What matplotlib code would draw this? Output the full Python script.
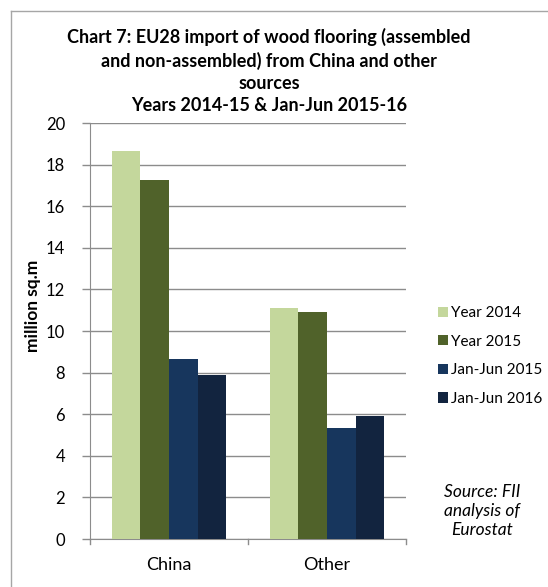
import matplotlib
matplotlib.use('Agg')
import matplotlib.pyplot as plt
from matplotlib.lines import Line2D
import numpy as np

categories = ['China', 'Other']
series_names = ['Year 2014', 'Year 2015', 'Jan-Jun 2015', 'Jan-Jun 2016']
series_values = [
    [18.65, 11.1],
    [17.27, 10.9],
    [8.65, 5.35],
    [7.9, 5.9],
]
colors = ['#C4D79C', '#50622A', '#17365D', '#12243F']
yticks = [0, 2, 4, 6, 8, 10, 12, 14, 16, 18, 20]

plt.rcParams['font.family'] = ['Lato', 'DejaVu Sans']

W, H = 548, 587
fig = plt.figure(figsize=(W / 100, H / 100), dpi=100)
# axes box in pixels: x 90..406, y 123..539
ax = fig.add_axes([90 / W, 1 - 539 / H, (406 - 90) / W, (539 - 123) / H])

nser = len(series_names)
bw = 0.726 / nser
x = np.arange(len(categories))
for i, (name, vals) in enumerate(zip(series_names, series_values)):
    ax.bar(x - 0.363 + bw * (i + 0.5), vals, width=bw, color=colors[i],
           label=name, zorder=3)

ax.set_xlim(-0.5, len(categories) - 0.5)
ax.set_ylim(0, 20)
ax.set_yticks(yticks)
ax.set_yticklabels([str(t) for t in yticks], fontsize=12)
ax.yaxis.grid(True, color='#8c8c8c', linewidth=1.0, zorder=0)
ax.set_xticks(x)
ax.set_xticklabels(categories, fontsize=13)
ax.tick_params(axis='x', length=0, pad=13)
ax.tick_params(axis='y', length=6, color='#8c8c8c', width=1.0, pad=12)
# category boundary ticks
for b in [-0.5, 0.5, 1.5]:
    ax.plot([b, b], [0, -0.25], color='#8c8c8c', lw=1.0, clip_on=False)
for s in ['top', 'right']:
    ax.spines[s].set_visible(False)
ax.spines['left'].set_color('#8c8c8c')
ax.spines['bottom'].set_color('#8c8c8c')

fig.text(33 / W, 1 - 306 / H, 'million sq.m', rotation=90, ha='center',
         va='center', fontsize=12.5, fontweight='bold')

fig.text(269 / W, 1 - 71 / H,
         'Chart 7: EU28 import of wood flooring (assembled\n'
         'and non-assembled) from China and other\nsources\n'
         'Years 2014-15 & Jan-Jun 2015-16',
         ha='center', va='center', multialignment='center', fontsize=13,
         fontweight='bold', linespacing=1.38)

leg = ax.legend(loc='center left', bbox_to_anchor=(430 / W, 1 - 356 / H),
                bbox_transform=fig.transFigure, frameon=False, fontsize=11,
                handlelength=0.65, handleheight=0.65, handletextpad=0.25,
                labelspacing=0.95, borderpad=0)

fig.text(482 / W, 1 - 511 / H, 'Source: FII\nanalysis of\nEurostat',
         ha='center', va='center', multialignment='center', fontsize=12.5,
         fontstyle='italic', linespacing=1.25)

# outer frame (left and top edges visible)
fig.add_artist(Line2D([10.5 / W, 10.5 / W], [0, 1 - 10.5 / H],
                      transform=fig.transFigure, color='#a6a6a6', lw=1.0))
fig.add_artist(Line2D([10.5 / W, 1], [1 - 10.5 / H, 1 - 10.5 / H],
                      transform=fig.transFigure, color='#a6a6a6', lw=1.0))

fig.savefig('out.png', dpi=100)
